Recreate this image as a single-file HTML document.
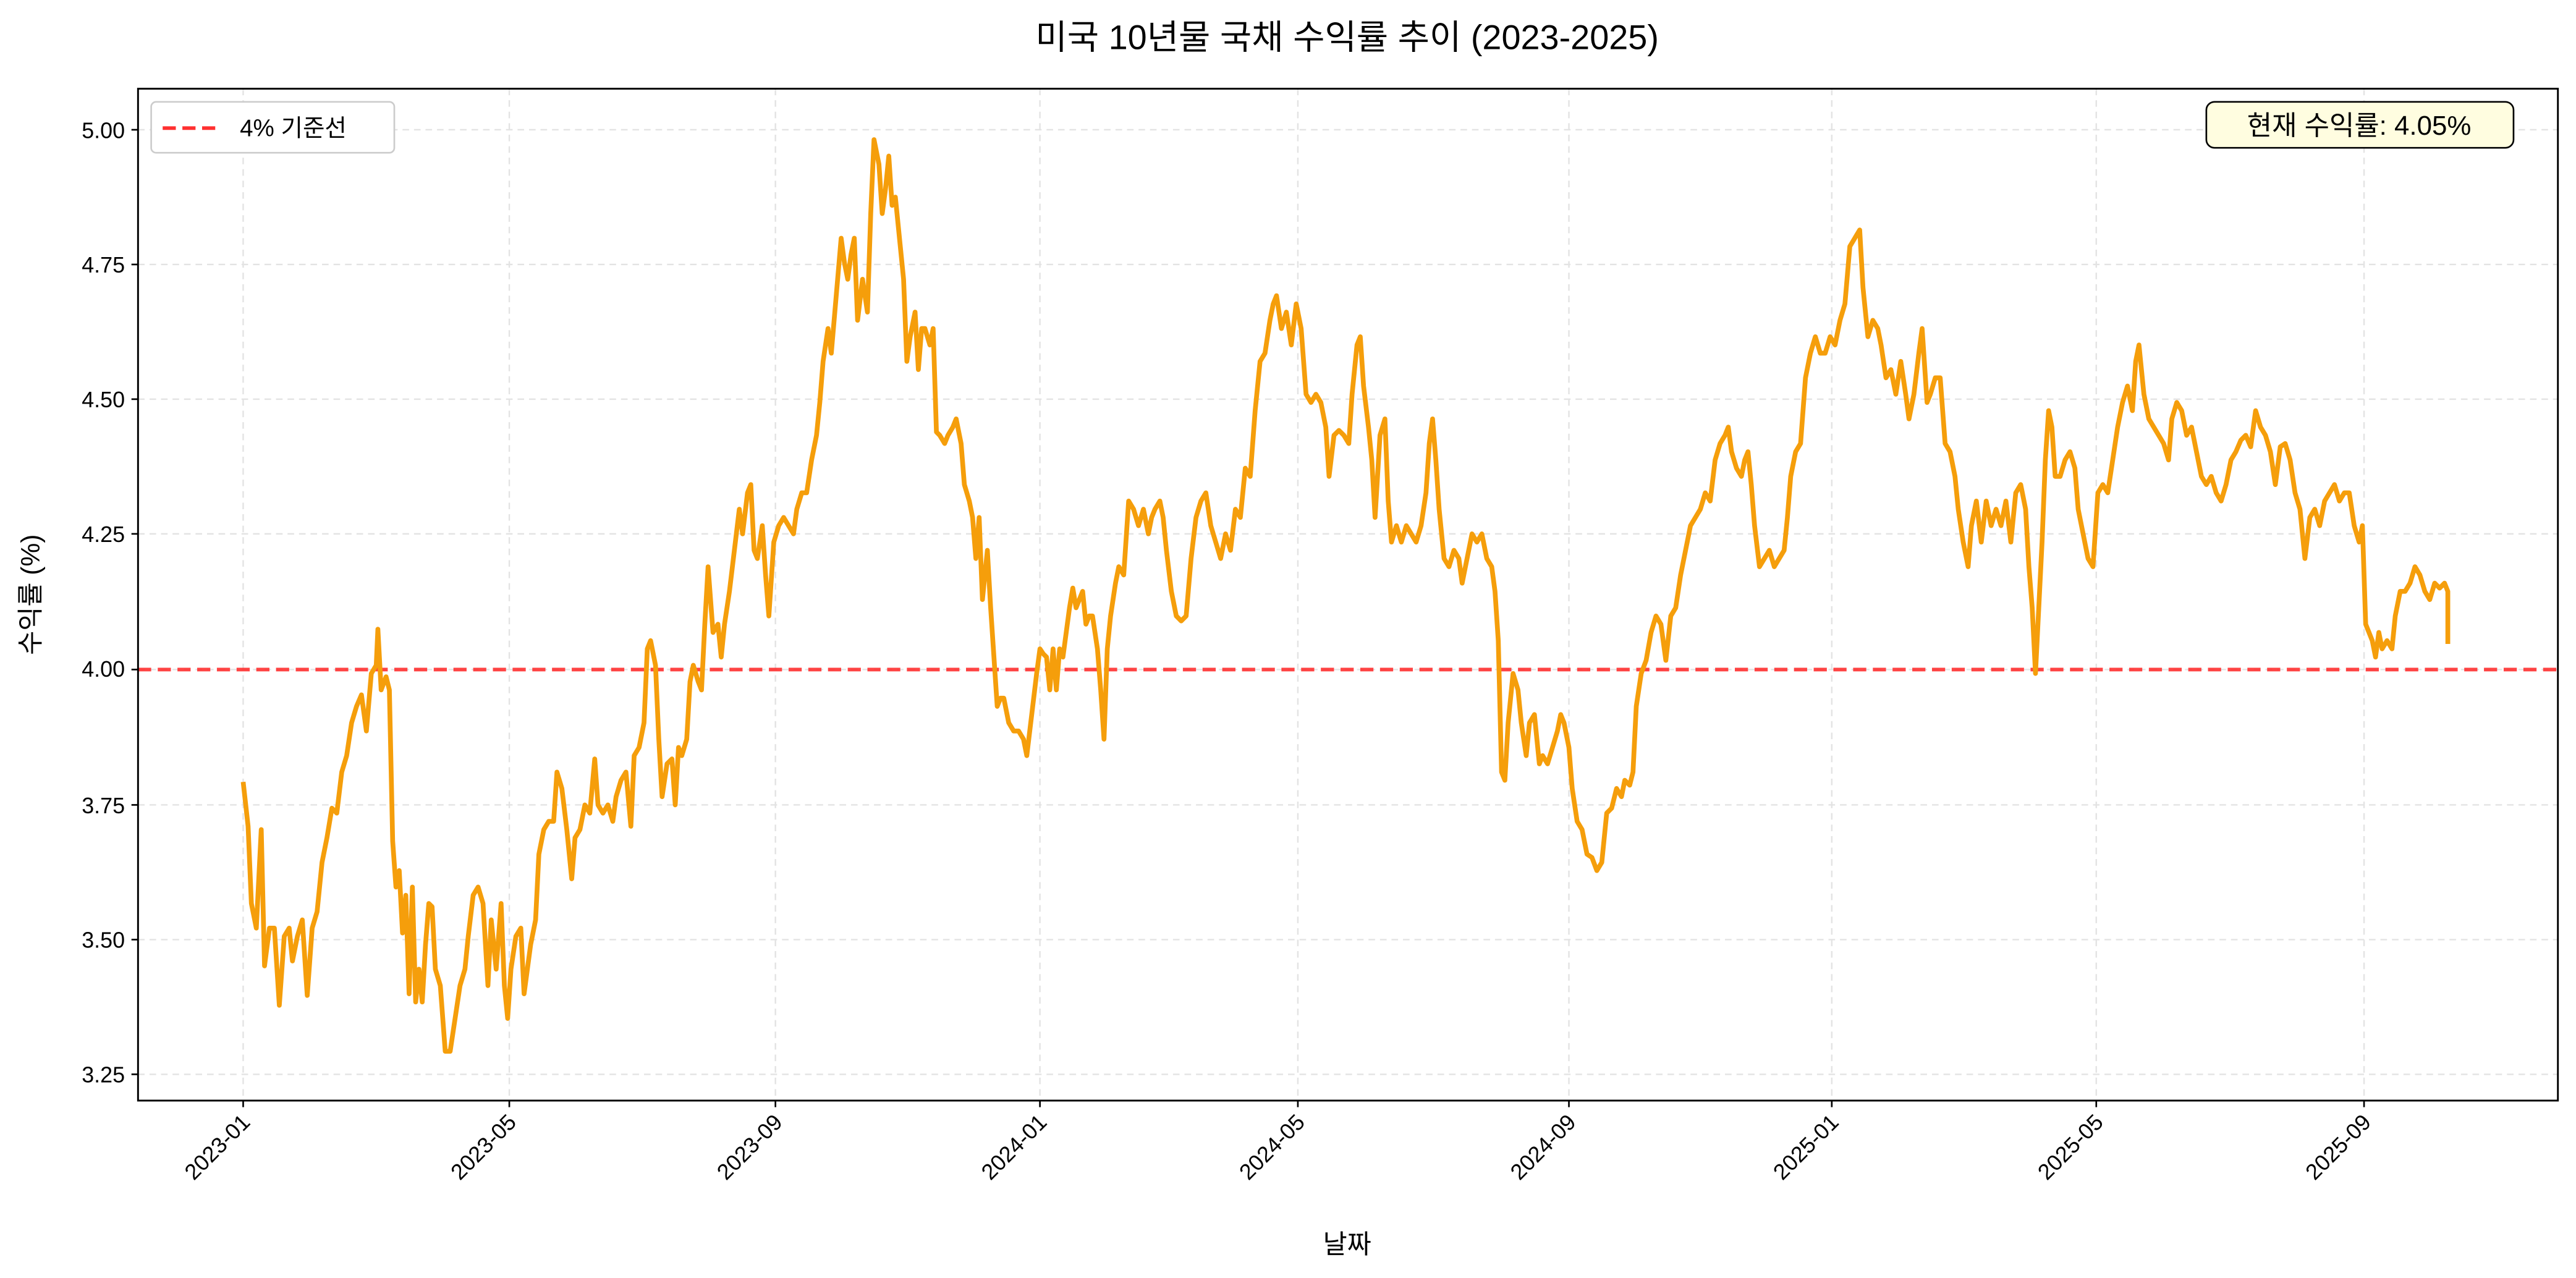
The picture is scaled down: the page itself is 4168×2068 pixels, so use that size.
<!DOCTYPE html>
<html><head><meta charset="utf-8"><style>
html,body{margin:0;padding:0;background:#fff;}
svg{display:block;}
text{font-family:"Liberation Sans","Noto Sans CJK KR","NanumGothic",sans-serif;fill:#000;}
</style></head><body>
<svg width="4168" height="2068" viewBox="0 0 1568 778" xmlns="http://www.w3.org/2000/svg">
<rect width="1568" height="778" fill="#fff"/>
<text x="820" y="30" font-size="21" text-anchor="middle">미국 10년물 국채 수익률 추이 (2023-2025)</text>
<g stroke="#e3e3e3" stroke-width="0.9" stroke-dasharray="4,3">
<line x1="148" y1="54" x2="148" y2="670"/><line x1="310" y1="54" x2="310" y2="670"/><line x1="472" y1="54" x2="472" y2="670"/><line x1="633" y1="54" x2="633" y2="670"/><line x1="790" y1="54" x2="790" y2="670"/><line x1="955" y1="54" x2="955" y2="670"/><line x1="1115" y1="54" x2="1115" y2="670"/><line x1="1276" y1="54" x2="1276" y2="670"/><line x1="1439" y1="54" x2="1439" y2="670"/>
<line x1="84" y1="79" x2="1557" y2="79"/><line x1="84" y1="161" x2="1557" y2="161"/><line x1="84" y1="243" x2="1557" y2="243"/><line x1="84" y1="325" x2="1557" y2="325"/><line x1="84" y1="407.6" x2="1557" y2="407.6"/><line x1="84" y1="490" x2="1557" y2="490"/><line x1="84" y1="572" x2="1557" y2="572"/><line x1="84" y1="654" x2="1557" y2="654"/>
</g>
<line x1="84" y1="407.6" x2="1557" y2="407.6" stroke="#ff3030" stroke-width="2.2" stroke-dasharray="8,4" opacity="0.9"/>
<polyline fill="none" stroke="#f59e0b" stroke-width="2.9" stroke-linejoin="round" points="148,476 151,503 153,550 156,565 159,505 161,588 164,565 167,565 170,612 173,570 176,565 178,585 181,570 184,560 187,606 190,565 193,555 196,525 199,510 202,492 205,495 208,470 211,460 214,440 217,430 220,423 223,445 226,410 229,405 230,383 232,420 235,412 237,420 239,512 241,540 243,530 245,568 247,545 249,605 251,540 253,610 255,590 257,610 259,575 261,550 263,552 265,590 268,600 271,640 274,640 277,620 280,600 283,590 285,570 288,545 291,540 294,550 297,600 299,560 302,590 305,550 307,600 309,620 311,590 314,570 317,565 319,605 321,590 323,575 326,560 328,520 331,505 334,500 337,500 339,470 342,480 345,505 348,535 350,510 353,505 356,490 359,495 362,462 364,490 367,495 370,490 373,500 375,485 378,475 381,470 384,503 386,460 389,455 392,440 394,395 396,390 399,405 401,450 403,485 406,465 409,462 411,490 413,455 415,460 418,450 420,415 422,405 425,415 427,420 429,380 431,345 434,385 437,380 439,400 441,380 444,360 447,335 450,310 452,325 455,300 457,295 459,335 461,340 464,320 466,350 468,375 471,330 474,320 477,315 480,320 483,325 485,310 488,300 491,300 494,280 497,265 499,245 501,220 504,200 506,215 509,180 512,145 514,160 516,170 518,155 520,145 522,195 525,170 528,190 530,130 532,85 535,100 537,130 539,115 541,95 543,125 545,120 547,140 550,170 552,220 554,205 557,190 559,225 561,200 563,200 566,210 568,200 570,263 572,265 575,270 577,265 580,260 582,255 585,270 587,295 590,305 592,315 594,340 596,315 598,365 601,335 603,370 605,400 607,430 609,425 611,425 614,440 617,445 620,445 623,450 625,460 628,435 631,410 633,395 635,398 637,400 639,420 641,395 643,420 645,395 647,400 649,385 651,370 653,358 655,370 657,365 659,360 661,380 663,375 665,375 668,395 670,420 672,450 674,395 676,375 679,355 681,345 684,350 687,305 690,310 693,320 696,310 699,325 701,315 703,310 706,305 708,315 710,335 713,360 716,375 719,378 722,375 725,340 728,315 731,305 734,300 737,320 740,330 743,340 746,325 749,335 752,310 755,315 758,285 761,290 764,250 767,220 770,215 773,195 775,185 777,180 780,200 783,190 786,210 789,185 792,200 795,240 798,245 801,240 804,245 807,260 809,290 812,265 815,262 818,265 821,270 823,240 826,210 828,205 830,235 833,260 835,280 837,315 840,265 843,255 845,305 847,330 850,320 853,330 856,320 859,325 862,330 865,320 868,300 870,270 872,255 874,280 876,310 879,340 882,345 885,335 888,340 890,355 893,340 896,325 899,330 902,325 905,340 908,345 910,360 912,390 914,470 916,475 918,440 921,410 924,420 926,440 929,460 931,440 934,435 937,465 939,460 942,465 945,455 948,445 950,435 952,440 955,455 957,480 960,500 963,505 966,520 969,522 972,530 975,525 978,495 981,492 984,480 987,485 989,475 992,478 994,470 996,430 999,410 1002,402 1005,385 1008,375 1011,380 1014,402 1017,375 1020,370 1023,350 1026,335 1029,320 1032,315 1035,310 1038,300 1041,305 1044,280 1047,270 1050,265 1052,260 1054,275 1057,285 1060,290 1062,280 1064,275 1066,295 1068,320 1071,345 1074,340 1077,335 1080,345 1083,340 1086,335 1088,315 1090,290 1093,275 1096,270 1099,230 1102,215 1105,205 1108,215 1111,215 1114,205 1117,210 1120,195 1123,185 1126,150 1129,145 1132,140 1134,175 1137,205 1140,195 1143,200 1145,210 1148,230 1151,225 1154,240 1157,220 1160,240 1162,255 1165,240 1168,215 1170,200 1173,245 1175,240 1178,230 1181,230 1184,270 1187,275 1190,290 1192,310 1195,330 1198,345 1200,320 1203,305 1206,330 1209,305 1212,320 1215,310 1218,320 1221,305 1224,330 1227,300 1230,295 1233,310 1235,345 1237,370 1239,410 1241,370 1243,330 1245,280 1247,250 1249,260 1251,290 1254,290 1257,280 1260,275 1263,285 1265,310 1268,325 1271,340 1274,345 1277,300 1280,295 1283,300 1286,280 1289,260 1292,245 1295,235 1298,250 1300,220 1302,210 1305,240 1308,255 1311,260 1314,265 1317,270 1320,280 1322,255 1325,245 1328,250 1331,265 1334,260 1337,275 1340,290 1343,295 1346,290 1349,300 1352,305 1355,295 1358,280 1361,275 1364,268 1367,265 1370,272 1373,250 1376,260 1379,265 1382,275 1385,295 1388,272 1391,270 1394,280 1397,300 1400,310 1403,340 1406,315 1409,310 1412,320 1415,305 1418,300 1421,295 1424,305 1427,300 1430,300 1433,320 1436,330 1438,320 1440,380 1442,385 1444,390 1446,400 1448,385 1450,395 1453,390 1456,395 1458,375 1461,360 1464,360 1467,355 1470,345 1473,350 1476,360 1479,365 1482,355 1485,358 1488,355 1490,360 1490,392"/>
<rect x="84" y="54" width="1473" height="616" fill="none" stroke="#000" stroke-width="1.1"/>
<g stroke="#000" stroke-width="1">
<line x1="80" y1="79" x2="84" y2="79"/><line x1="80" y1="161" x2="84" y2="161"/><line x1="80" y1="243" x2="84" y2="243"/><line x1="80" y1="325" x2="84" y2="325"/><line x1="80" y1="407.6" x2="84" y2="407.6"/><line x1="80" y1="490" x2="84" y2="490"/><line x1="80" y1="572" x2="84" y2="572"/><line x1="80" y1="654" x2="84" y2="654"/>
<line x1="148" y1="670" x2="148" y2="674"/><line x1="310" y1="670" x2="310" y2="674"/><line x1="472" y1="670" x2="472" y2="674"/><line x1="633" y1="670" x2="633" y2="674"/><line x1="790" y1="670" x2="790" y2="674"/><line x1="955" y1="670" x2="955" y2="674"/><line x1="1115" y1="670" x2="1115" y2="674"/><line x1="1276" y1="670" x2="1276" y2="674"/><line x1="1439" y1="670" x2="1439" y2="674"/>
</g>
<g font-size="13.5" text-anchor="end">
<text x="76" y="84">5.00</text><text x="76" y="166">4.75</text><text x="76" y="248">4.50</text><text x="76" y="330">4.25</text><text x="76" y="412">4.00</text><text x="76" y="495">3.75</text><text x="76" y="577">3.50</text><text x="76" y="659">3.25</text>
</g>
<g font-size="13.5" text-anchor="end">
<text transform="translate(153,684) rotate(-45)">2023-01</text><text transform="translate(315,684) rotate(-45)">2023-05</text><text transform="translate(477,684) rotate(-45)">2023-09</text><text transform="translate(638,684) rotate(-45)">2024-01</text><text transform="translate(795,684) rotate(-45)">2024-05</text><text transform="translate(960,684) rotate(-45)">2024-09</text><text transform="translate(1120,684) rotate(-45)">2025-01</text><text transform="translate(1281,684) rotate(-45)">2025-05</text><text transform="translate(1444,684) rotate(-45)">2025-09</text>
</g>
<text x="820" y="763" font-size="16" text-anchor="middle">날짜</text>
<text transform="translate(24,362) rotate(-90)" font-size="16" text-anchor="middle">수익률 (%)</text>
<rect x="92" y="62" width="148" height="31" rx="3" fill="#fff" stroke="#ccc" stroke-width="1"/>
<line x1="99" y1="78" x2="135" y2="78" stroke="#ff3030" stroke-width="2.2" stroke-dasharray="8,4"/>
<text x="146" y="83" font-size="14.5">4% 기준선</text>
<rect x="1343" y="62" width="187" height="28" rx="5" fill="#fffde0" stroke="#000" stroke-width="1"/>
<text x="1436" y="82" font-size="16.5" text-anchor="middle">현재 수익률: 4.05%</text>
</svg>
</body></html>
